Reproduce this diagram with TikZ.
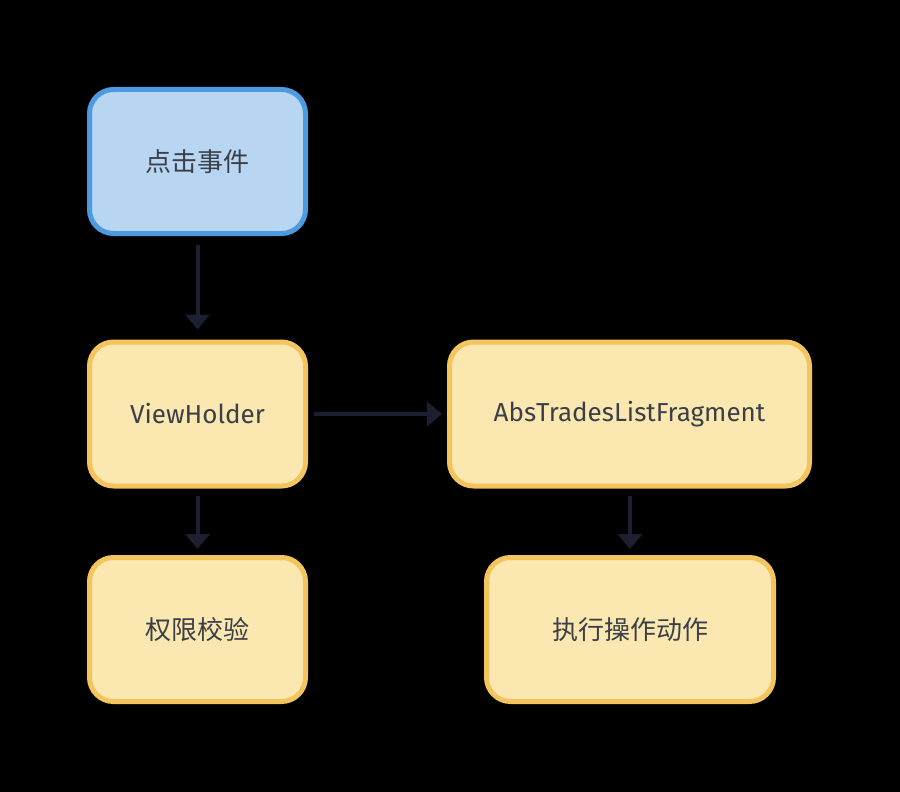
\documentclass[tikz,border=0pt]{standalone}
\usepackage{fontspec}
\setmainfont{Fira Sans}
\newfontfamily\cjk{Noto Sans CJK SC}
\usetikzlibrary{arrows.meta}
\definecolor{bluefill}{HTML}{B8D6F2}
\definecolor{blueline}{HTML}{4C9BE0}
\definecolor{yelfill}{HTML}{FBE7B0}
\definecolor{yelline}{HTML}{F3C55C}
\definecolor{txt}{HTML}{3A3F49}
\definecolor{arr}{HTML}{1C1F30}

\begin{document}
\begin{tikzpicture}[x=1pt,y=-1pt,
		box/.style={draw=yelline, fill=yelfill, line width=5pt, rounded corners=24pt, minimum height=144pt, text=txt, font=\fontsize{26}{30}\selectfont},
		bluebox/.style={box, draw=blueline, fill=bluefill},
		flow/.style={draw=arr, line width=4pt, -{Triangle[width=24pt,length=15pt]}}]
			\fill[black] (0,0) rectangle (900,792);
			\useasboundingbox (0,0) rectangle (900,792);

			\node[bluebox, minimum width=216pt] (click) at (197.5,161.5) {\cjk 点击事件};
			\node[box, minimum width=216pt] (holder) at (197.5,414) {ViewHolder};
			\node[box, minimum width=216pt] (perm) at (197.5,629.5) {\cjk 权限校验};
			\node[box, minimum width=360pt] (frag) at (629.5,414) {AbsTradesListFragment};
			\node[box, minimum width=287pt] (exec) at (630,629.5) {\cjk 执行操作动作};

			\draw[flow, shorten <=9pt, shorten >=10pt] (click) -- (holder);
			\draw[flow, shorten <=6pt, shorten >=5pt] (holder) -- (frag);
			\draw[flow, shorten <=7pt, shorten >=6pt] (holder) -- (perm);
			\draw[flow, shorten <=7pt, shorten >=6pt] (frag.south -| exec) -- (exec);
		\end{tikzpicture}
\end{document}
